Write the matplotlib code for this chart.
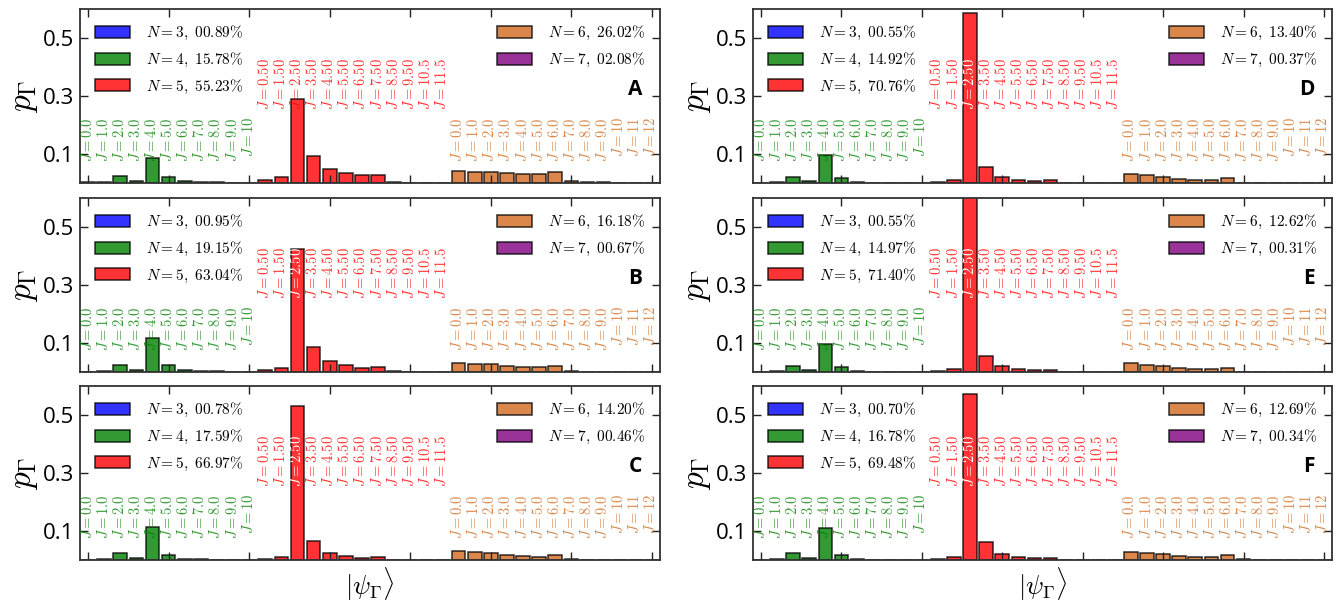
import matplotlib
matplotlib.use("Agg")
import matplotlib.pyplot as plt
from matplotlib.patches import Patch
from matplotlib.colors import to_rgba
import numpy as np

plt.rcParams['mathtext.fontset'] = 'cm'
plt.rcParams['font.family'] = ['Open Sans', 'DejaVu Sans']

# ---------------- data ----------------
panel_names = ["A", "B", "C", "D", "E", "F"]

J_labels_N4 = ["0.0", "1.0", "2.0", "3.0", "4.0", "5.0", "6.0", "7.0", "8.0", "9.0", "10"]
J_labels_N5 = ["0.50", "1.50", "2.50", "3.50", "4.50", "5.50", "6.50", "7.50", "8.50", "9.50", "10.5", "11.5"]
J_labels_N6 = ["0.0", "1.0", "2.0", "3.0", "4.0", "5.0", "6.0", "7.0", "8.0", "9.0", "10", "11", "12"]

percent_A = [0.89, 15.78, 55.23, 26.02, 2.08]
percent_B = [0.95, 19.15, 63.04, 16.18, 0.67]
percent_C = [0.78, 17.59, 66.97, 14.20, 0.46]
percent_D = [0.55, 14.92, 70.76, 13.40, 0.37]
percent_E = [0.55, 14.97, 71.40, 12.62, 0.31]
percent_F = [0.70, 16.78, 69.48, 12.69, 0.34]

N4_A = [0.002, 0.004, 0.023, 0.008, 0.085, 0.020, 0.008, 0.005, 0.004, 0.001, 0.0]
N5_A = [0.009, 0.021, 0.290, 0.092, 0.049, 0.034, 0.026, 0.028, 0.005, 0.001, 0.0005, 0.0]
N6_A = [0.040, 0.038, 0.037, 0.033, 0.031, 0.030, 0.039, 0.007, 0.004, 0.002, 0.001, 0.0005, 0.0]

N4_B = [0.001, 0.003, 0.025, 0.008, 0.118, 0.024, 0.006, 0.002, 0.002, 0.001, 0.0]
N5_B = [0.008, 0.015, 0.425, 0.086, 0.038, 0.024, 0.015, 0.018, 0.002, 0.001, 0.0, 0.0]
N6_B = [0.031, 0.029, 0.027, 0.021, 0.018, 0.016, 0.022, 0.002, 0.001, 0.0, 0.0, 0.0, 0.0]

N4_C = [0.001, 0.003, 0.023, 0.007, 0.115, 0.018, 0.004, 0.002, 0.001, 0.001, 0.0]
N5_C = [0.004, 0.010, 0.530, 0.067, 0.025, 0.013, 0.008, 0.010, 0.001, 0.0, 0.0, 0.0]
N6_C = [0.030, 0.027, 0.023, 0.017, 0.013, 0.011, 0.017, 0.002, 0.001, 0.0, 0.0, 0.0, 0.0]

N4_D = [0.001, 0.003, 0.021, 0.007, 0.095, 0.016, 0.002, 0.001, 0.001, 0.0005, 0.0]
N5_D = [0.004, 0.010, 0.586, 0.056, 0.021, 0.012, 0.008, 0.009, 0.001, 0.0, 0.0, 0.0]
N6_D = [0.032, 0.027, 0.022, 0.015, 0.012, 0.010, 0.018, 0.001, 0.0, 0.0, 0.0, 0.0, 0.0]

N4_E = [0.001, 0.003, 0.021, 0.007, 0.096, 0.016, 0.002, 0.001, 0.001, 0.0005, 0.0]
N5_E = [0.003, 0.009, 0.602, 0.054, 0.020, 0.010, 0.007, 0.008, 0.001, 0.0, 0.0, 0.0]
N6_E = [0.031, 0.025, 0.021, 0.014, 0.010, 0.010, 0.015, 0.001, 0.0, 0.0, 0.0, 0.0, 0.0]

N4_F = [0.001, 0.003, 0.023, 0.006, 0.112, 0.018, 0.002, 0.001, 0.001, 0.0005, 0.0]
N5_F = [0.003, 0.009, 0.572, 0.061, 0.022, 0.012, 0.007, 0.008, 0.001, 0.0, 0.0, 0.0]
N6_F = [0.029, 0.025, 0.021, 0.014, 0.010, 0.009, 0.016, 0.002, 0.001, 0.0, 0.0, 0.0, 0.0]

panels = {
    "A": (N4_A, N5_A, N6_A, percent_A),
    "B": (N4_B, N5_B, N6_B, percent_B),
    "C": (N4_C, N5_C, N6_C, percent_C),
    "D": (N4_D, N5_D, N6_D, percent_D),
    "E": (N4_E, N5_E, N6_E, percent_E),
    "F": (N4_F, N5_F, N6_F, percent_F),
}

# ---------------- styles ----------------
col_N3 = to_rgba('blue', 0.8)
col_N4 = to_rgba('green', 0.8)
col_N5 = to_rgba('red', 0.8)
col_N6 = to_rgba('chocolate', 0.8)
col_N7 = to_rgba('purple', 0.8)
edge = to_rgba('black', 0.8)

W, H = 1340, 602
fig = plt.figure(figsize=(W / 100, H / 100), dpi=100)

col_x = [(80, 660), (753, 1332)]
row_y = [(9, 183), (198, 372), (386, 560)]

label_top_low = 0.228
label_top_high = 0.43


def add_labels(ax, xs, heights, labels, color, ytop):
    for x, h, lab in zip(xs, heights, labels):
        c = 'white' if h > ytop - 0.08 else color
        ax.text(x, ytop, r"$J=%s$" % lab, rotation=90, ha='center', va='top',
                fontsize=10.5, color=c, zorder=5)


for i, name in enumerate(panel_names):
    col = i // 3
    row = i % 3
    x0, x1 = col_x[col]
    y0, y1 = row_y[row]
    ax = fig.add_axes([x0 / W, 1 - y1 / H, (x1 - x0) / W, (y1 - y0) / H])
    n4, n5, n6, pct = panels[name]

    x4 = np.arange(len(n4))
    x5 = np.arange(len(n5)) + len(n4)
    x6 = np.arange(len(n6)) + len(n4) + len(n5)

    kw = dict(width=0.85, edgecolor=edge, linewidth=1.1)
    ax.bar(x4, n4, color=col_N4, **kw)
    ax.bar(x5, n5, color=col_N5, **kw)
    ax.bar(x6, n6, color=col_N6, **kw)

    add_labels(ax, x4, n4, J_labels_N4, col_N4, label_top_low)
    add_labels(ax, x5, n5, J_labels_N5, col_N5, label_top_high)
    add_labels(ax, x6, n6, J_labels_N6, col_N6, label_top_low)

    ax.set_xlim(-0.5, 35.5)
    ax.set_ylim(0, 0.6)
    ax.set_xticks(np.arange(0, 36, 5))
    ax.set_xticklabels([])
    ax.set_yticks([0.1, 0.3, 0.5])
    ax.set_yticklabels(["0.1", "0.3", "0.5"])
    ax.tick_params(direction='in', length=6, width=1.0, top=True, right=True,
                   labelsize=16, pad=4, color='#222222')
    for s in ax.spines.values():
        s.set_linewidth(1.3)
        s.set_color('#333333')
    ax.set_ylabel(r"$p_\Gamma$", fontsize=24, labelpad=2)

    h_left = [Patch(facecolor=col_N3, edgecolor=edge, linewidth=1.1),
              Patch(facecolor=col_N4, edgecolor=edge, linewidth=1.1),
              Patch(facecolor=col_N5, edgecolor=edge, linewidth=1.1)]
    l_left = [r"$N=%d,\ %05.2f\%%$" % (n, p) for n, p in zip([3, 4, 5], pct[:3])]
    leg1 = ax.legend(h_left, l_left, loc='upper left', frameon=False, fontsize=11,
                     handlelength=2.3, handleheight=0.85, labelspacing=0.55,
                     borderaxespad=0.6, handletextpad=1.0)
    ax.add_artist(leg1)
    h_right = [Patch(facecolor=col_N6, edgecolor=edge, linewidth=1.1),
               Patch(facecolor=col_N7, edgecolor=edge, linewidth=1.1)]
    l_right = [r"$N=%d,\ %05.2f\%%$" % (n, p) for n, p in zip([6, 7], pct[3:])]
    ax.legend(h_right, l_right, loc='upper right', frameon=False, fontsize=11,
              handlelength=2.3, handleheight=0.85, labelspacing=0.55,
              borderaxespad=0.6, handletextpad=1.0)

    ax.text(0.97, 0.535, name, transform=ax.transAxes, ha='right', va='center',
            fontsize=15, fontweight='bold', color='black')

    if row == 2:
        ax.set_xlabel(r"$|\psi_\Gamma\rangle$", fontsize=19, labelpad=0)

fig.savefig("out.png", dpi=100)
